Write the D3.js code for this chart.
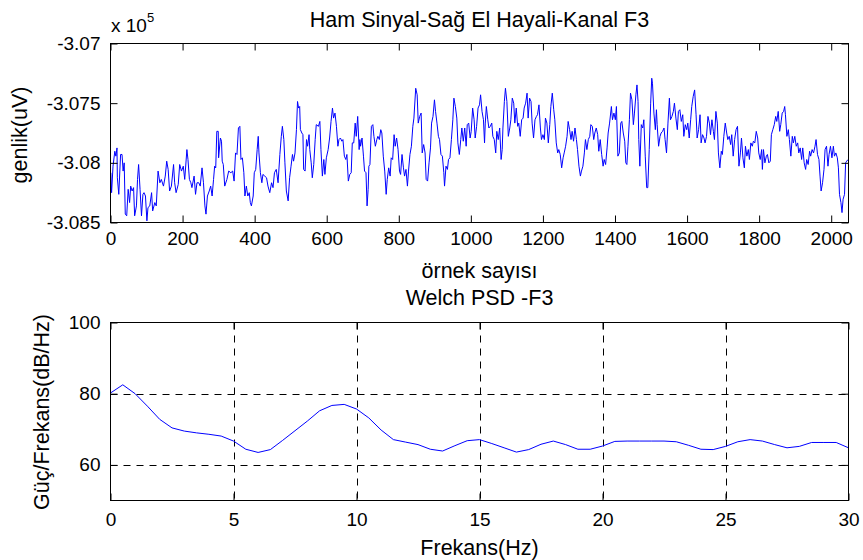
<!DOCTYPE html>
<html>
<head>
<meta charset="utf-8">
<script src="https://cdn.jsdelivr.net/npm/d3@7"></script>
<style>
  html, body { margin: 0; padding: 0; background: #fff; }
  svg text { font-family: "Liberation Sans", Arial, sans-serif; fill: #000; }
</style>
</head>
<body>
<svg id="fig" width="863" height="560"></svg>
<script>
// ---- Raw EEG channel F3: [sample index, amplitude in µV] ----
const rawSignal = [
  [1,-308083],[3,-308250],[7,-308028],[12,-307903],[15,-307944],[18,-307875],[19,-308125],[23,-308264],[28,-307930],[32,-307930],
  [35,-308069],[38,-308000],[41,-308430],[45,-308444],[49,-308222],[53,-308333],[56,-308195],[60,-308236],[64,-308208],[67,-308444],
  [72,-308361],[75,-308139],[78,-308014],[82,-308222],[86,-308444],[90,-308264],[93,-308250],[97,-308278],[101,-308486],[104,-308375],
  [109,-308361],[114,-308250],[117,-308403],[123,-308333],[127,-308361],[132,-308069],[137,-308167],[141,-308139],[147,-308195],[152,-308111],
  [156,-307986],[160,-308055],[164,-308236],[169,-308195],[175,-308014],[178,-308167],[182,-308250],[188,-308181],[192,-308014],[197,-308069],
  [202,-308028],[206,-308139],[212,-307889],[215,-307972],[219,-308139],[223,-308167],[226,-308208],[232,-308111],[236,-308264],[240,-308167],
  [245,-308167],[249,-308195],[254,-308042],[258,-308167],[262,-308361],[265,-308430],[269,-308278],[274,-308236],[278,-308195],[282,-308278],
  [286,-308139],[289,-308028],[292,-308042],[295,-307736],[299,-307736],[300,-307958],[305,-307792],[308,-307819],[310,-307986],[313,-308014],
  [317,-308195],[323,-308139],[328,-308069],[334,-308083],[339,-308069],[343,-308153],
  [347,-307917],[351,-307930],[355,-307708],[359,-307694],[362,-307972],[366,-307958],[370,-308083],[373,-308278],[377,-308195],[381,-308278],
  [385,-308250],[388,-308333],[391,-308361],[396,-308278],[399,-308083],[403,-308055],[407,-307889],[410,-307778],[412,-307917],[416,-308083],
  [420,-308167],[423,-308097],[428,-308111],[433,-308125],[437,-308195],[442,-308250],[447,-308167],[451,-308208],[455,-308083],[460,-308055],
  [465,-308167],[470,-307930],[474,-307778],[477,-307694],[481,-307805],[484,-308000],[488,-308236],[493,-308319],[497,-308125],[501,-308028],
  [505,-307930],[508,-307986],[512,-307917],[516,-307722],[519,-307486],[522,-307541],[525,-307528],[527,-307722],[531,-307750],[534,-307764],
  [536,-308055],[540,-308069],[544,-307805],[547,-307861],[551,-307764],[553,-307889],[557,-308000],[560,-308125],[564,-308014],[568,-307805],
  [571,-307680],[577,-307694],[581,-307653],[584,-307889],[588,-308111],[592,-307972],[595,-308097],[599,-307958],[604,-307889],[608,-307792],
  [612,-307653],[616,-307541],[619,-307625],[623,-307583],[627,-307694],[631,-307861],[634,-307805],[638,-307792],[642,-307819],[645,-307805],
  [649,-307944],[653,-307972],[656,-307930],[660,-308153],[664,-308097],[668,-308083],[671,-307833],[675,-307833],[679,-307667],[682,-307778],
  [686,-307611],[690,-307889],
  [692,-307805],[694,-307861],[698,-307792],[702,-307944],[705,-308069],[709,-308083],[712,-308361],[715,-308222],[717,-308028],[720,-308014],
  [724,-307694],[728,-307680],[731,-307778],[735,-307861],[739,-307805],[742,-307778],[746,-307805],[750,-307722],[753,-307750],[757,-307944],
  [761,-308069],[765,-308264],[768,-308139],[772,-308042],[776,-308111],[779,-307958],[783,-307972],[787,-307764],[790,-307861],[794,-307792],
  [798,-307889],[802,-308069],[805,-308097],[809,-307930],[813,-308042],[816,-308111],[820,-308055],[824,-308195],[827,-308069],[831,-307930],
  [835,-307861],[839,-307694],[842,-307625],[847,-307375],[851,-307430],[854,-307667],[858,-307611],[862,-307583],[865,-307917],[869,-307847],
  [873,-307917],[876,-308139],[880,-308153],[884,-308000],[888,-307875],[891,-307667],[895,-307611],[899,-307472],[902,-307569],[906,-307667],
  [910,-307778],[913,-307805],[917,-307930],[921,-307944],[925,-308083],[927,-308195],[931,-308028],[935,-308055],[938,-307972],[942,-307958],
  [946,-307805],[950,-307639],[953,-307458],[957,-307528],[961,-307625],[964,-307833],[968,-307930],[972,-307805],[975,-307708],[979,-307819],
  [983,-307708],[987,-307861],[990,-307680],[994,-307667],[998,-307792],[1001,-307736],[1005,-307541],[1009,-307639],[1012,-307792],[1016,-307694],
  [1020,-307541],[1024,-307514],[1027,-307430],[1031,-307569],[1035,-307639],[1038,-307833],
  [1040,-307667],[1043,-307528],[1047,-307639],[1050,-307708],[1054,-307694],[1058,-307667],[1061,-307778],[1065,-307805],[1069,-307917],[1072,-307736],
  [1076,-307805],[1080,-307708],[1084,-307972],[1087,-307889],[1089,-307708],[1093,-307486],[1096,-307375],[1100,-307486],[1104,-307778],[1108,-307708],
  [1111,-307639],[1115,-307458],[1119,-307500],[1122,-307667],[1126,-307541],[1130,-307694],[1133,-307667],[1137,-307778],[1141,-307639],[1145,-307625],
  [1148,-307541],[1152,-307500],[1156,-307416],[1159,-307625],[1163,-307458],[1167,-307486],[1170,-307667],[1174,-307792],[1178,-307639],[1182,-307611],
  [1185,-307597],[1189,-307514],[1193,-307708],[1196,-307805],[1200,-307764],[1204,-307805],[1207,-307625],[1211,-307667],[1215,-307833],[1219,-307680],
  [1222,-307528],[1226,-307416],[1230,-307555],[1233,-307639],[1237,-307833],[1241,-307917],[1244,-307889],[1248,-307930],[1252,-308042],[1256,-307958],
  [1259,-307917],[1263,-307861],[1267,-307778],[1270,-307653],[1274,-307722],[1278,-307805],[1281,-307736],[1285,-307819],[1289,-307708],[1293,-307805],
  [1296,-307889],[1300,-308028],[1304,-308111],[1307,-308069],[1311,-308028],[1315,-307917],[1318,-307805],[1322,-307889],[1326,-307805],[1330,-307778],
  [1333,-307680],[1337,-307694],[1341,-307805],[1344,-307750],[1348,-307708],[1352,-307764],[1355,-307903],[1359,-307805],[1363,-307930],[1367,-308028],
  [1370,-307972],[1374,-308014],[1378,-307875],[1381,-307750],[1385,-307667],
  [1390,-307528],[1393,-307639],[1397,-307583],[1401,-307639],[1404,-307528],[1408,-307944],[1412,-307917],[1416,-307667],[1419,-307653],[1423,-307750],
  [1427,-307819],[1430,-308000],[1433,-308014],[1436,-307861],[1440,-307639],[1443,-307416],[1447,-307472],[1451,-307680],[1454,-307583],[1458,-307430],
  [1461,-307347],[1464,-307486],[1466,-307805],[1469,-308028],[1473,-307680],[1477,-307708],[1480,-307639],[1484,-307944],[1488,-308208],[1491,-308208],
  [1495,-307889],[1499,-307500],[1502,-307291],[1504,-307333],[1508,-307583],[1512,-307722],[1515,-307555],[1517,-307680],[1521,-307861],[1525,-307778],
  [1528,-307750],[1532,-307736],[1536,-307708],[1539,-307805],[1543,-307917],[1547,-307667],[1551,-307458],[1554,-307639],[1558,-307611],[1562,-307569],
  [1565,-307500],[1569,-307625],[1573,-307722],[1576,-307569],[1580,-307555],[1584,-307653],[1588,-307597],[1591,-307778],[1595,-307680],[1599,-307722],
  [1602,-307667],[1606,-307792],[1610,-307639],[1613,-307528],[1617,-307444],[1621,-307389],[1625,-307597],[1628,-307792],[1632,-307722],[1636,-307597],
  [1639,-307833],[1643,-307764],[1647,-307792],[1650,-307833],[1654,-307778],[1658,-307611],[1662,-307667],[1665,-307764],[1669,-307639],[1673,-307736],
  [1676,-307805],[1680,-307569],[1684,-307667],[1687,-307917],[1691,-308042],[1695,-307903],[1698,-307930],[1702,-307778],[1706,-307667],[1710,-307750],
  [1713,-307805],[1717,-307778],[1721,-307847],[1724,-307764],[1728,-307944],[1732,-307805],
  [1736,-307722],[1740,-307694],[1744,-308028],[1748,-307917],[1751,-307792],[1755,-307958],[1759,-308042],[1762,-307861],[1766,-307944],[1770,-307889],
  [1773,-307972],[1777,-307833],[1781,-307861],[1784,-307819],[1788,-307833],[1792,-307736],[1796,-307792],[1799,-307917],[1803,-307972],[1807,-307889],
  [1809,-308055],[1812,-307889],[1816,-308000],[1820,-307944],[1823,-307930],[1827,-308000],[1831,-307986],[1834,-307764],[1838,-307722],[1842,-307680],
  [1846,-307611],[1849,-307653],[1853,-307569],[1857,-307736],[1860,-307680],[1864,-307583],[1868,-307569],[1871,-307528],[1873,-307597],[1877,-307778],
  [1881,-307722],[1884,-307805],[1888,-307944],[1892,-307778],[1895,-307833],[1899,-307778],[1903,-307861],[1907,-307833],[1910,-307917],[1914,-307875],
  [1918,-307972],[1921,-307875],[1925,-308000],[1929,-308055],[1932,-307972],[1936,-308014],[1940,-307903],[1943,-307944],[1947,-307889],[1951,-307917],
  [1955,-307861],[1958,-307805],[1962,-307930],[1966,-307972],[1969,-308111],[1972,-308236],[1976,-308167],[1980,-308055],[1983,-307889],[1987,-307861],
  [1991,-308028],[1994,-307930],[1998,-307861],[2002,-307958],[2006,-307861],[2009,-307944],[2013,-307917],[2017,-307958],[2020,-308042],[2023,-308264],
  [2027,-308333],[2030,-308417],[2033,-308305],[2037,-308264],[2040,-308000],[2043,-307986],[2047,-307972]
];
const rawXTicks = [0, 200, 400, 600, 800, 1000, 1200, 1400, 1600, 1800, 2000];
const rawYTicks = [-308500, -308000, -307500, -307000];
const rawXDomain = [0, 2048];
const rawYDomain = [-308500, -307000];

// ---- Welch power spectral density of the same channel ----
const psdFreq = [0,0.5,1,1.5,2,2.5,3,3.5,4,4.5,5,5.5,6,6.5,7,7.5,8,8.5,9,9.5,10,10.5,11,11.5,12,12.5,13,13.5,14,14.5,
                 15,15.5,16,16.5,17,17.5,18,18.5,19,19.5,20,20.5,21,21.5,22,22.5,23,23.5,24,24.5,25,25.5,26,26.5,27,27.5,28,28.5,29,29.5,30];
const psdPower = [80.2,82.5,80.0,76.5,72.8,70.4,69.5,69.0,68.6,68.1,66.7,64.4,63.5,64.3,66.9,69.6,72.3,75.2,76.7,77.0,75.7,73.2,69.8,67.1,66.4,65.7,64.4,63.9,65.4,66.8,
                  67.1,66.0,64.8,63.6,64.3,65.8,66.7,65.7,64.4,64.4,65.3,66.6,66.7,66.7,66.7,66.7,66.5,65.5,64.4,64.3,65.2,66.5,67.1,66.7,65.7,64.8,65.2,66.3,66.3,66.3,64.8];
const psdXTicks = [0, 5, 10, 15, 20, 25, 30];
const psdYTicks = [60, 80, 100];
const psdYDomain = [50, 100];

// ---- Layout ----
const FONT = 19;       // tick labels
const LABEL_FONT = 21.5; // titles and axis labels
const TICK = 7;
const LINE_BLUE = "#0000ff";
const svg = d3.select("#fig");

const topBox = { left: 110.5, right: 848.5, top: 43.5, bottom: 222.5 };
const botBox = { left: 110.5, right: 848.5, top: 322.5, bottom: 500.5 };

function styleAxis(g) {
  g.select(".domain").remove();
  g.selectAll(".tick line").attr("stroke", "#000").attr("stroke-width", 1);
  g.selectAll(".tick text").attr("font-size", FONT).attr("font-family", null);
}

function frame(box, x, y, xTicks, yTicks, xFmt, yFmt, xPad) {
  const g = svg.append("g");
  g.append("g").attr("transform", `translate(0,${box.bottom})`)
    .call(d3.axisBottom(x).tickValues(xTicks).tickSize(-TICK).tickPadding(xPad).tickFormat(xFmt))
    .call(styleAxis);
  g.append("g").attr("transform", `translate(0,${box.top})`)
    .call(d3.axisTop(x).tickValues(xTicks).tickSize(-TICK).tickFormat(""))
    .call(styleAxis);
  g.append("g").attr("transform", `translate(${box.left},0)`)
    .call(d3.axisLeft(y).tickValues(yTicks).tickSize(-TICK).tickPadding(10).tickFormat(yFmt))
    .call(styleAxis);
  g.append("g").attr("transform", `translate(${box.right},0)`)
    .call(d3.axisRight(y).tickValues(yTicks).tickSize(-TICK).tickFormat(""))
    .call(styleAxis);
  g.append("rect")
    .attr("x", box.left).attr("y", box.top)
    .attr("width", box.right - box.left).attr("height", box.bottom - box.top)
    .attr("fill", "none").attr("stroke", "#000").attr("stroke-width", 1);
  return g;
}

function label(x, y, text, rotate) {
  const t = svg.append("text")
    .attr("text-anchor", "middle").attr("font-size", LABEL_FONT).text(text);
  if (rotate) t.attr("transform", `translate(${x},${y}) rotate(-90)`);
  else t.attr("x", x).attr("y", y);
  return t;
}

// ================= Raw signal panel =================
const xRaw = d3.scaleLinear().domain(rawXDomain).range([topBox.left, topBox.right]);
const yRaw = d3.scaleLinear().domain(rawYDomain).range([topBox.bottom, topBox.top]);

svg.append("defs").append("clipPath").attr("id", "clipTop")
  .append("rect").attr("x", topBox.left).attr("y", topBox.top)
  .attr("width", topBox.right - topBox.left).attr("height", topBox.bottom - topBox.top);

svg.append("path")
  .datum(rawSignal)
  .attr("clip-path", "url(#clipTop)")
  .attr("fill", "none")
  .attr("stroke", LINE_BLUE)
  .attr("stroke-width", 1)
  .attr("d", d3.line().x(d => xRaw(d[0])).y(d => yRaw(d[1])));

frame(topBox, xRaw, yRaw, rawXTicks, rawYTicks,
  d => String(d),
  d => String(+(d / 1e5).toFixed(3)),
  9.5);

// exponent of the amplitude axis
const expo = svg.append("text").attr("x", 111).attr("y", 32).attr("font-size", FONT);
expo.append("tspan").text("x 10");
expo.append("tspan").attr("font-size", 13).attr("dy", -10).text("5");

const midX = (topBox.left + topBox.right) / 2;
label(midX, 27, "Ham Sinyal-Sağ El Hayali-Kanal F3");
label(midX, 278, "örnek sayısı");
label(27, 135, "genlik(uV)", true);

// ================= Welch PSD panel =================
const xPsd = d3.scaleLinear().domain([psdXTicks[0], psdXTicks[psdXTicks.length - 1]]).range([botBox.left, botBox.right]);
const yPsd = d3.scaleLinear().domain(psdYDomain).range([botBox.bottom, botBox.top]);

// dashed grid
const grid = svg.append("g").attr("stroke", "#000").attr("stroke-width", 1).attr("stroke-dasharray", "7,6");
grid.selectAll("line.v").data(psdXTicks.slice(1, -1)).join("line")
  .attr("x1", d => Math.round(xPsd(d)) + 0.5).attr("x2", d => Math.round(xPsd(d)) + 0.5)
  .attr("y1", botBox.top).attr("y2", botBox.bottom);
grid.selectAll("line.h").data(psdYTicks.filter(v => v < psdYDomain[1])).join("line")
  .attr("y1", d => Math.round(yPsd(d)) + 0.5).attr("y2", d => Math.round(yPsd(d)) + 0.5)
  .attr("x1", botBox.left).attr("x2", botBox.right);

svg.append("defs").append("clipPath").attr("id", "clipBot")
  .append("rect").attr("x", botBox.left).attr("y", botBox.top)
  .attr("width", botBox.right - botBox.left).attr("height", botBox.bottom - botBox.top);

svg.append("path")
  .datum(psdFreq.map((f, i) => [f, psdPower[i]]))
  .attr("clip-path", "url(#clipBot)")
  .attr("fill", "none")
  .attr("stroke", LINE_BLUE)
  .attr("stroke-width", 1)
  .attr("d", d3.line().x(d => xPsd(d[0])).y(d => yPsd(d[1])));

frame(botBox, xPsd, yPsd, psdXTicks, psdYTicks, d => String(d), d => String(d), 12.5);

label(midX, 305, "Welch PSD -F3");
label(midX, 555, "Frekans(Hz)");
label(49, 412, "Güç/Frekans(dB/Hz)", true);
</script>
</body>
</html>
